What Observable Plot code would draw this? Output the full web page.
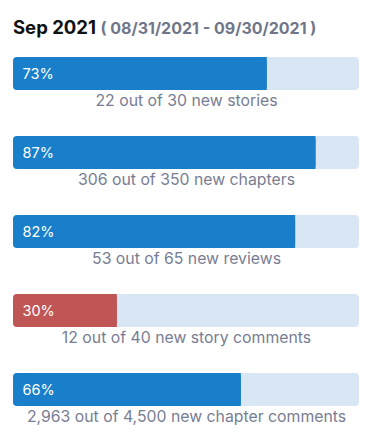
<!DOCTYPE html>
<html>
<head>
<meta charset="utf-8">
<script src="https://cdn.jsdelivr.net/npm/d3@7"></script>
<script src="https://cdn.jsdelivr.net/npm/@observablehq/plot@0.6"></script>
<style>
  html, body { margin: 0; padding: 0; background: #fff; width: 370px; height: 442px; overflow: hidden; font-family: Inter, "Noto Sans", sans-serif; }
  #title { box-sizing: border-box; height: 45px; padding: 17px 0 0 13px; line-height: 20px; white-space: nowrap; }
  #title .main { font-size: 18.5px; font-weight: 700; color: #111; }
  #title .range { font-size: 16px; font-weight: 700; color: #70768a; }
  svg { display: block; }
</style>
</head>
<body>
<div id="title"><span class="main">Sep 2021</span> <span class="range">( 08/31/2021 - 09/30/2021 )</span></div>
<div id="chart"></div>
<script>
const categories = ["stories", "chapters", "reviews", "story comments", "chapter comments"];
const done = [22, 306, 53, 12, 2963];
const totals = [30, 350, 65, 40, 4500];
const statuses = ["ok", "ok", "ok", "low", "ok"];

const fmt = d3.format(",");
const rows = categories.map((c, i) => ({
  cat: c,
  frac: done[i] / totals[i],
  pct: Math.round(100 * done[i] / totals[i]) + "%",
  label: `${fmt(done[i])} out of ${fmt(totals[i])} new ${c}`,
  status: statuses[i]
}));

const chart = Plot.plot({
  width: 370,
  height: 397,
  margin: 0,
  x: { domain: [0, 1], range: [13, 359], axis: null },
  y: { domain: categories, range: [11, 362], paddingInner: 0.585, paddingOuter: 0, axis: null },
  color: { domain: ["ok", "low"], range: ["#1a7fca", "#c05555"] },
  style: { fontFamily: "Inter, 'Noto Sans', sans-serif" },
  marks: [
    Plot.barX(rows, { y: "cat", x1: 0, x2: 1, fill: "#d9e6f3", rx: 4 }),
    Plot.barX(rows, { y: "cat", x1: 0, x2: "frac", fill: "status", rx: 4 }),
    Plot.barX(rows, { y: "cat", x1: d => d.frac / 2, x2: "frac", fill: "status" }),
    Plot.text(rows, { y: "cat", x: 0, text: "pct", textAnchor: "start", dx: 9, fill: "white", fontSize: 14.5 }),
    Plot.text(rows, { y: "cat", x: 0.5, text: "label", textAnchor: "middle", dy: 27, fill: "#787d93", fontSize: 15.8 })
  ]
});
document.getElementById("chart").appendChild(chart);
</script>
</body>
</html>
